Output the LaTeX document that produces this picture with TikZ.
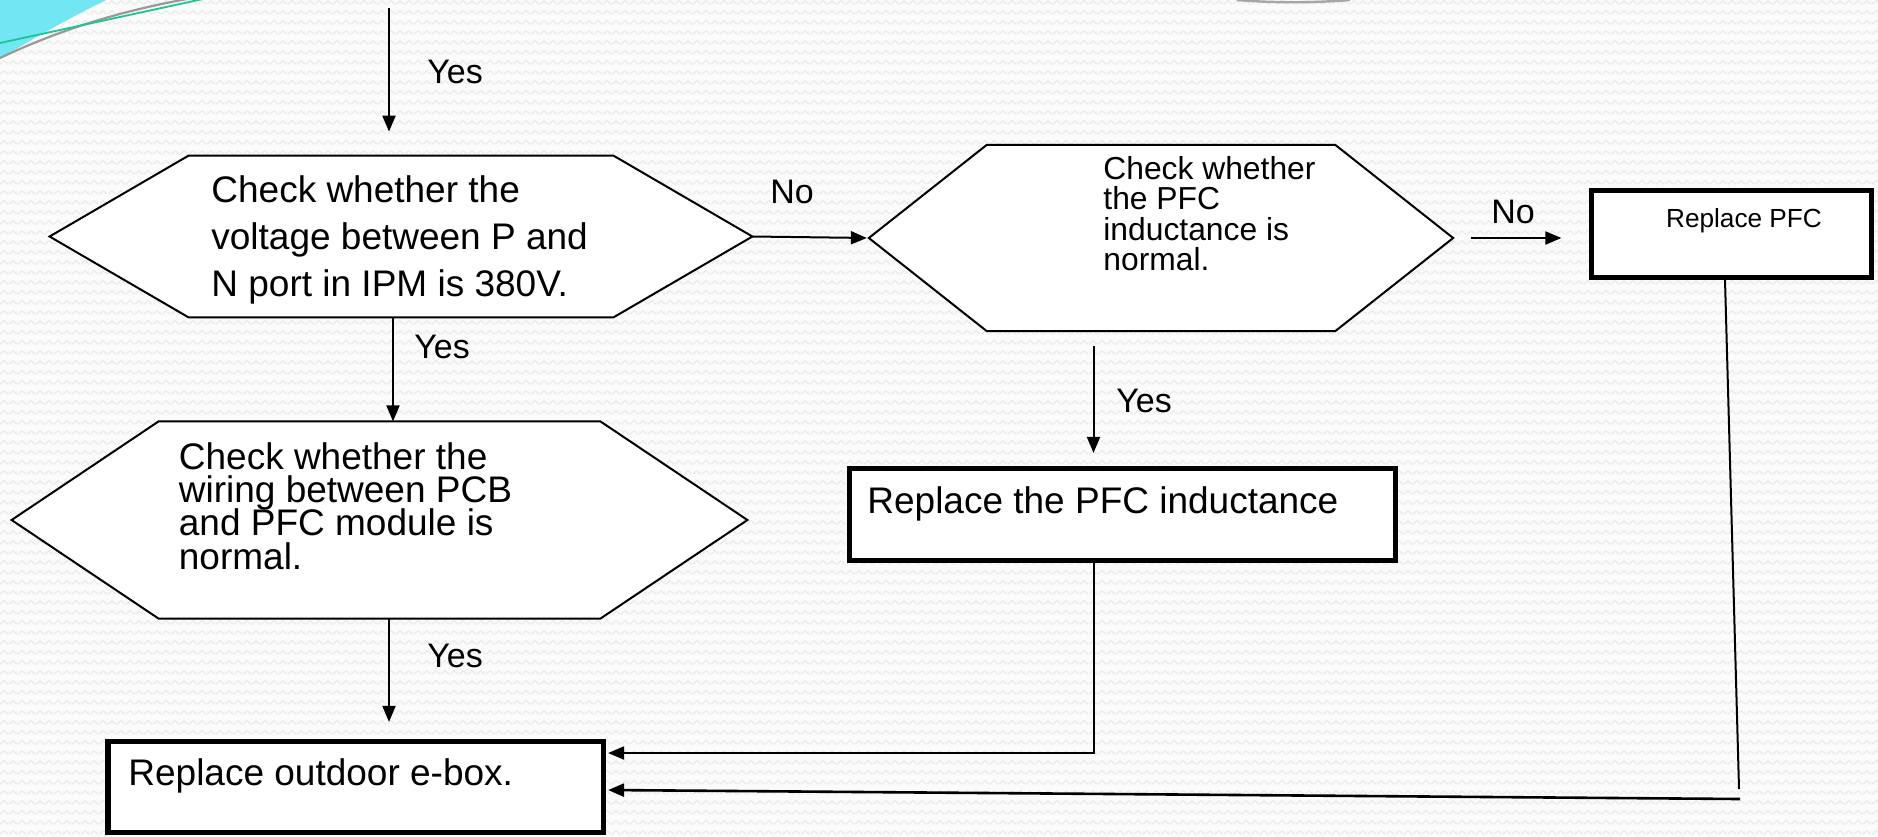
\documentclass[tikz,border=0pt]{standalone}
\usepackage{fontspec}
\setmainfont{Liberation Sans}
\usetikzlibrary{arrows.meta,calc,patterns.meta}

\definecolor{paper}{RGB}{251,251,251}
\definecolor{ripple}{RGB}{236,236,236}
\definecolor{wedge}{RGB}{114,230,242}
\definecolor{sweep}{RGB}{30,196,150}

% lets lines sit closer than their glyph boxes would allow
\newcommand\tightlines{\lineskiplimit=-50pt\relax}

% faint zigzag rows for the page background
\tikzdeclarepattern{
  name=zigrows,
  type=uncolored,
  bounding box={(0pt,0pt) and (4.25pt,5pt)},
  tile size={(4.25pt,5pt)},
  code={\draw[line width=0.7pt] (0pt,1.5pt) -- (2.125pt,3.5pt) -- (4.25pt,1.5pt);}
}

\tikzset{
  hexframe/.style n args={2}{draw=none, inner sep=0pt, minimum width=#1, minimum height=#2},
  hexline/.style={draw=black, line width=1pt, fill=white, line join=miter},
  boxline/.style={draw=black, line width=2.6pt, fill=white, inner sep=0pt},
  flow/.style={line width=1pt, -{Triangle[length=8pt,width=6.5pt]}},
  plain/.style={line width=1pt},
  tag/.style={font=\fontsize{17}{20}\selectfont, inner sep=0pt},
  bigtext/.style={anchor=west, align=left, inner sep=0pt},
}

% hexagon outline through the corners of a frame node
\newcommand\hexoutline[2]{%
  \path[hexline] (#1.west) -- ($(#1.north west)+(#2,0)$) -- ($(#1.north east)+(-#2,0)$)
    -- (#1.east) -- ($(#1.south east)+(-#2,0)$) -- ($(#1.south west)+(#2,0)$) -- cycle;}

\begin{document}
\begin{tikzpicture}[x=0.5pt,y=-0.5pt]
  % page
  \fill[paper] (0,0) rectangle (1878,836);
  \fill[pattern=zigrows, pattern color=ripple] (0,0) rectangle (1878,836);
  \useasboundingbox (0,0) rectangle (1878,836);

  % corner ornaments
  \begin{scope}
    \clip (0,0) rectangle (1878,836);
    \fill[wedge] (0,0) -- (106,0) .. controls (66,20) and (30,40) .. (0,59) -- cycle;
    \draw[gray!80, line width=1.1pt] (0,58) .. controls (55,32) and (115,12) .. (187,-1);
    \draw[sweep, line width=0.9pt] (0,43) -- (203,-1);
    \draw[gray!70, line width=1.2pt] (1237,0) .. controls (1275,3) and (1312,3) .. (1350,0);
  \end{scope}

  % decision shapes
  \node[hexframe={351pt}{80.5pt}] (h1) at (401,236.5) {};
  \hexoutline{h1}{139}
  \node[hexframe={291.75pt}{92.8pt}] (h2) at (1161,238) {};
  \hexoutline{h2}{118}
  \node[hexframe={367.5pt}{98.2pt}] (h3) at (379.5,520) {};
  \hexoutline{h3}{147}

  % action boxes
  \node[boxline, minimum width=140pt, minimum height=43.5pt] (pfc) at (1731.5,234) {};
  \node[boxline, minimum width=273pt, minimum height=46pt] (ind) at (1122.5,514.5) {};
  \node[boxline, minimum width=247.8pt, minimum height=45.5pt] (ebox) at (355.7,787) {};

  % texts
  \node[bigtext, font=\fontsize{18.5}{23.5}\selectfont\tightlines] (t1) at (211,240)
    {Check whether the\\voltage between P and\\N port in IPM is 380V.};
  \node[bigtext, font=\fontsize{15.9}{15.2}\selectfont\tightlines] (t2) at (1103,213.5)
    {Check whether\\the PFC\\inductance is\\normal.};
  \node[bigtext, font=\fontsize{18.5}{16.6}\selectfont\tightlines] (t3) at (178.5,506)
    {Check whether the\\wiring between PCB\\and PFC module is\\normal.};
  \node[inner sep=0pt, font=\fontsize{13.1}{15}\selectfont] (t4) at (1744,220.5) {Replace PFC};
  \node[bigtext, font=\fontsize{18.5}{22}\selectfont] (t5) at (867,504) {Replace the PFC inductance};
  \node[bigtext, font=\fontsize{18.5}{22}\selectfont] (t6) at (128,776) {Replace outdoor e-box.};

  % connector points
  \coordinate (entry) at (389,8);
  \coordinate (a1) at ($(h1.south)+(-8,0)$);
  \coordinate (a2) at ($(h3.south)+(9.5,0)$);
  \coordinate (bend) at (1093.5,753);
  \coordinate (pfcfoot) at (1739,789);
  \coordinate (pfcrun) at (1740,799);
  \coordinate (eboxin) at (606,790);

  % connectors
  \draw[flow, shorten >=12pt] (entry) -- (entry |- h1.north);
  \draw[flow, shorten >=1pt] (h1.east) -- (h2.west);
  \draw[flow, shorten <=9pt, shorten >=13.75pt] (h2.east) -- (pfc.west |- h2.east);
  \draw[flow] (a1) -- (a1 |- h3.north);
  \draw[flow, shorten >=8.5pt] (a2) -- (a2 |- ebox.north);
  \draw[flow, shorten <=7.5pt, shorten >=6.5pt] (h2.south -| bend) -- (ind.north -| bend);
  \draw[flow] (ind.south -| bend) -- (bend) -- ($(ebox.east |- bend)+(2,0)$);
  \draw[plain] ($(pfc.south)+(-6.5,0)$) -- (pfcfoot);
  \draw[flow, line width=1.3pt] (pfcrun) -- ($(ebox.east |- eboxin)+(2,0)$);

  % branch labels
  \node[tag] (y1) at (455,72) {Yes};
  \node[tag] (n1) at (792,192) {No};
  \node[tag] (n2) at (1513,212) {No};
  \node[tag] (y2) at (442,347) {Yes};
  \node[tag] (y3) at (455,656) {Yes};
  \node[tag] (y4) at (1144,401) {Yes};
\end{tikzpicture}
\end{document}
